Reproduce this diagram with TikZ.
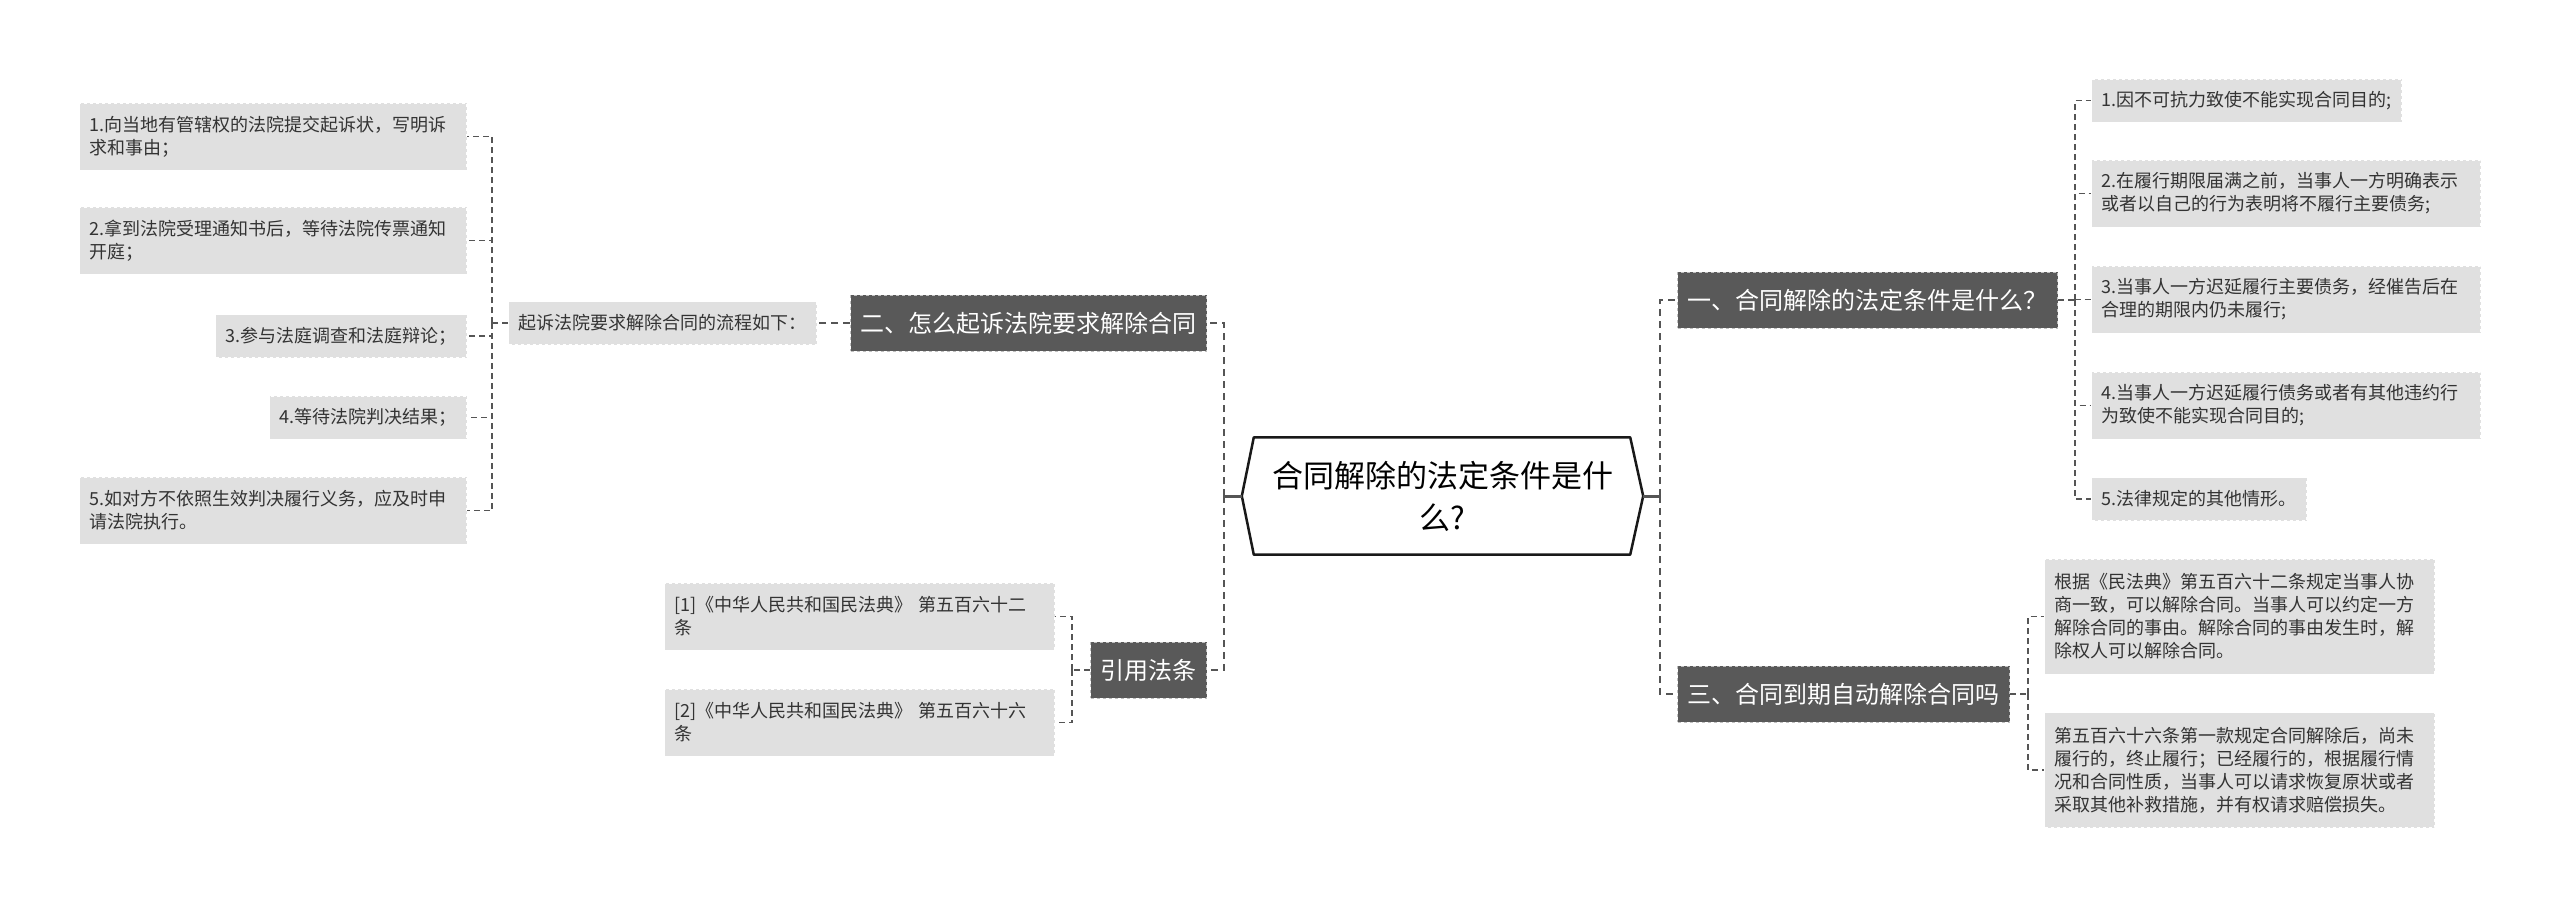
\documentclass[tikz,border=0pt]{standalone}
\usepackage{fontspec}
\setmainfont{Noto Sans CJK SC}
\usetikzlibrary{calc}
\definecolor{leafgray}{HTML}{E0E0E0}
\definecolor{topicgray}{HTML}{595959}
\definecolor{linegray}{HTML}{555555}
\definecolor{textgray}{HTML}{333333}
\tikzset{>=latex}
\tikzset{
  leaf/.style={rectangle, fill=leafgray, draw=white, dashed, line width=1pt,
    inner xsep=10pt, inner ysep=0pt, minimum height=43pt, align=left,
    text=textgray, font=\fontsize{18pt}{23pt}\selectfont},
  topic/.style={rectangle, fill=topicgray, draw=white!75!black, dashed, line width=1pt,
    inner xsep=10pt, inner ysep=0pt, minimum height=56pt,
    text=white, font=\fontsize{24pt}{30pt}\selectfont},
  trunk/.style={linegray, line width=2.5pt, dash pattern=on 7pt off 5pt},
  twig/.style={linegray, line width=1.4pt, dash pattern=on 6pt off 4pt},
}

\begin{document}
\begin{tikzpicture}[x=1pt, y=-1pt]
  \useasboundingbox (0,0) rectangle (2560,906);
  % root
  \node[font=\fontsize{31pt}{42pt}\selectfont, align=center, minimum width=401pt,
    minimum height=117pt, inner sep=0pt] (root) at (1442.5,496) {合同解除的法定条件是什\\么?};
  \draw[line width=2.5pt, line join=round, black!90] (root.west) -- ($(root.north west)+(12,0)$)
    -- ($(root.north east)+(-13,0)$) -- (root.east) -- ($(root.south east)+(-13,0)$)
    -- ($(root.south west)+(12,0)$) -- cycle;
  % topics
  \node[topic, anchor=east] (how) at (1207,323) {二、怎么起诉法院要求解除合同};
  \node[topic, anchor=east] (cite) at (1207,670) {引用法条};
  \node[topic, anchor=west] (cond) at (1677,300) {一、合同解除的法定条件是什么？};
  \node[topic, anchor=west] (expire) at (1677,694) {三、合同到期自动解除合同吗};
  % left leaves
  \node[leaf, anchor=east] (flow) at (817,323) {起诉法院要求解除合同的流程如下：};
  \node[leaf, anchor=east, text width=367pt, minimum height=67pt] (step1) at (467,136.5)
    {1.向当地有管辖权的法院提交起诉状，写明诉\\求和事由；};
  \node[leaf, anchor=east, text width=367pt, minimum height=67pt] (step2) at (467,240.5)
    {2.拿到法院受理通知书后，等待法院传票通知\\开庭；};
  \node[leaf, anchor=east] (step3) at (467,336) {3.参与法庭调查和法庭辩论；};
  \node[leaf, anchor=east] (step4) at (467,417.5) {4.等待法院判决结果；};
  \node[leaf, anchor=east, text width=367pt, minimum height=67pt] (step5) at (467,510.5)
    {5.如对方不依照生效判决履行义务，应及时申\\请法院执行。};
  \node[leaf, anchor=east, text width=370pt, minimum height=67pt] (ref1) at (1055,616.5)
    {[1]《中华人民共和国民法典》 第五百六十二\\条};
  \node[leaf, anchor=east, text width=370pt, minimum height=67pt] (ref2) at (1055,722.5)
    {[2]《中华人民共和国民法典》 第五百六十六\\条};
  % right leaves
  \node[leaf, anchor=west] (cond1) at (2091,100.5) {1.因不可抗力致使不能实现合同目的;};
  \node[leaf, anchor=west, text width=369pt, minimum height=67pt] (cond2) at (2091,193.5)
    {2.在履行期限届满之前，当事人一方明确表示\\或者以自己的行为表明将不履行主要债务;};
  \node[leaf, anchor=west, text width=369pt, minimum height=67pt] (cond3) at (2091,299.5)
    {3.当事人一方迟延履行主要债务，经催告后在\\合理的期限内仍未履行;};
  \node[leaf, anchor=west, text width=369pt, minimum height=67pt] (cond4) at (2091,405.5)
    {4.当事人一方迟延履行债务或者有其他违约行\\为致使不能实现合同目的;};
  \node[leaf, anchor=west] (cond5) at (2091,499) {5.法律规定的其他情形。};
  \node[leaf, anchor=west, text width=370pt, minimum height=115pt] (exp1) at (2044,616.5)
    {根据《民法典》第五百六十二条规定当事人协\\商一致，可以解除合同。当事人可以约定一方\\解除合同的事由。解除合同的事由发生时，解\\除权人可以解除合同。};
  \node[leaf, anchor=west, text width=370pt, minimum height=115pt] (exp2) at (2044,770)
    {第五百六十六条第一款规定合同解除后，尚未\\履行的，终止履行；已经履行的，根据履行情\\况和合同性质，当事人可以请求恢复原状或者\\采取其他补救措施，并有权请求赔偿损失。};
  % connectors
  \draw[linegray, line width=3pt] (root.west) -- ++(-18,0) coordinate (jl);
  \draw[linegray, line width=3pt] (root.east) -- ++(17,0) coordinate (jr);
  \draw[trunk] (jl) |- (how.east);
  \draw[trunk] (jl) |- (cite.east);
  \draw[trunk] (jr) |- (cond.west);
  \draw[trunk] (jr) |- (expire.west);
  \draw[trunk] (how.west) -- (flow.east);
  \draw[twig] (flow.west) -- ++(-16,0) coordinate (jflow);
  \foreach \n in {step1,step2,step3,step4,step5}
    \draw[twig] (jflow) |- (\n.east);
  \draw[twig] (cite.west) -- ++(-18,0) coordinate (jcite);
  \foreach \n in {ref1,ref2}
    \draw[twig] (jcite) |- (\n.east);
  \draw[twig] (cond.east) -- ++(17,0) coordinate (jcond);
  \foreach \n in {cond1,cond2,cond3,cond4,cond5}
    \draw[twig] (jcond) |- (\n.west);
  \draw[twig] (expire.east) -- ++(18,0) coordinate (jexp);
  \foreach \n in {exp1,exp2}
    \draw[twig] (jexp) |- (\n.west);
\end{tikzpicture}
\end{document}
